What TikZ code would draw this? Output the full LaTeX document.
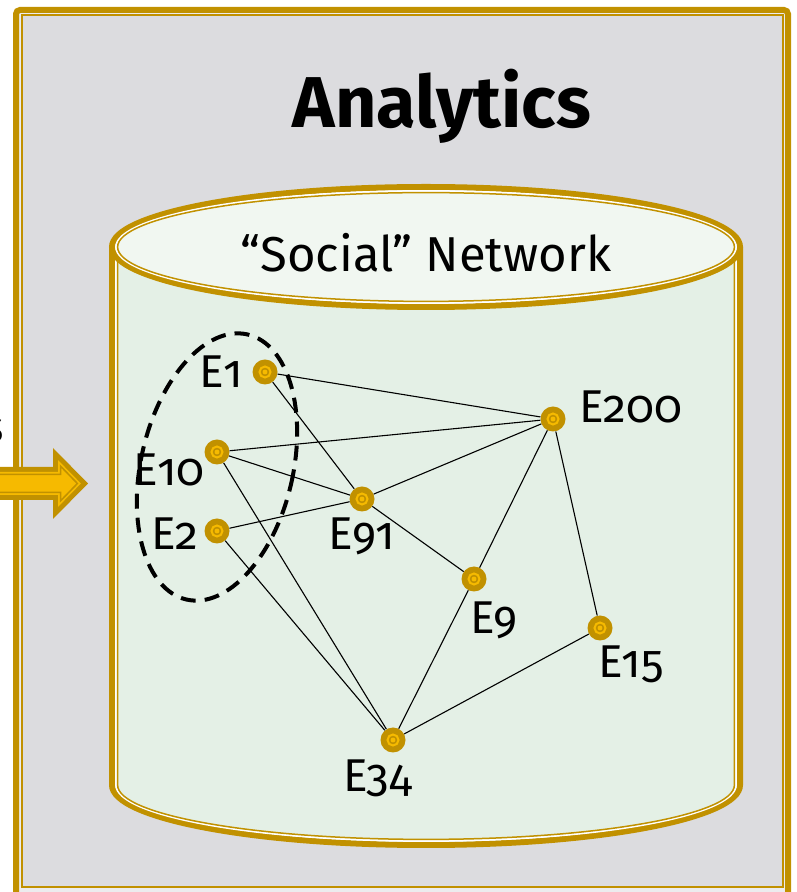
\documentclass[tikz,border=0pt]{standalone}
\usepackage{fontspec}
\setmainfont{Fira Sans}[Numbers=OldStyle]
\usetikzlibrary{calc}
\definecolor{gold}{RGB}{193,145,0}
\definecolor{amber}{RGB}{246,186,0}
\definecolor{panelgray}{RGB}{220,220,223}
\definecolor{panelrim}{RGB}{236,236,238}
\definecolor{cylbody}{RGB}{228,240,230}
\definecolor{cyltop}{RGB}{241,247,241}
% side and bottom of the store, drawn #1 inside the outer line
\newcommand\cylside[1]{(112+#1,645) -- (112+#1,107) arc[start angle=180, end angle=360, x radius=314-#1, y radius=60-#1] -- (740-#1,645)}

\tikzset{
  ev/.style={circle, fill=gold, minimum size=25pt, inner sep=0pt,
    path picture={\draw[amber, line width=2pt] (path picture bounding box.center) circle (5.5pt);
      \fill[amber] (path picture bounding box.center) circle (2.4pt);}},
  evlabel/.style={anchor=base, inner sep=0pt, font=\fontsize{46}{50}\selectfont},
  link/.style={black, line width=1.1pt},
  cluster/.style={black, line width=4pt, dash pattern=on 15pt off 9pt},
}

\begin{document}
\begin{tikzpicture}[x=1pt,y=1pt]
\useasboundingbox (0,0) rectangle (797,892);
\clip (0,0) rectangle (797,892);
% panel
\fill[panelrim, rounded corners=4pt] (16,-5) rectangle (788,882);
\draw[gold, line width=6pt, rounded corners=4pt] (16,-5) rectangle (788,882);
\filldraw[fill=panelgray, draw=gold, line width=2pt] (22,4.5) rectangle (783,876.5);

% incoming arrow
\fill[gold] (-10,425) -- (53,425) -- (53,444) -- (88,408.5) -- (53,373) -- (53,392) -- (-10,392) -- cycle;
\fill[amber] (-10,420) -- (58,420) -- (58,431.9) -- (80.9,408.5) -- (58,385.1) -- (58,397) -- (-10,397) -- cycle;
\draw[gold, line width=1.5pt] (-10,417.5) -- (60.5,417.5) -- (60.5,425.9) -- (77.4,408.5) -- (60.5,391.1) -- (60.5,399.5) -- (-10,399.5) -- cycle;
\node[evlabel, anchor=base east] (cut) at (4.5,449) {s};

% store
\fill[cylbody] \cylside{0} -- cycle;
\draw[gold, line width=6pt] \cylside{0};
\draw[white, line width=1.8pt] \cylside{4};
\draw[gold, line width=1.5pt] \cylside{5.6};
\filldraw[fill=cyltop, draw=gold, line width=6pt] (426,645) ellipse [x radius=314, y radius=60];
\draw[white, line width=1.8pt] (426,645) ellipse [x radius=310, y radius=56];
\draw[gold, line width=1.5pt] (426,645) ellipse [x radius=308.4, y radius=54.4];

\node[font=\fontsize{72}{80}\selectfont\bfseries, anchor=base] (title) at (442,764) {Analytics};
\node[font=\fontsize{49}{55}\selectfont, anchor=base] (store) at (426,620) {“Social” Network};

% events
\node[ev] (e1) at (265,520) {};
\node[ev] (e200) at (553,473) {};
\node[ev] (e10) at (217,440) {};
\node[ev] (e91) at (362,393) {};
\node[ev] (e2) at (217,361) {};
\node[ev] (e9) at (474,313) {};
\node[ev] (e15) at (600,264) {};
\node[ev] (e34) at (393,152) {};

\draw[link] (e1) -- (e200) (e1) -- (e91) (e10) -- (e200) (e10) -- (e91)
  (e10) -- (e34) (e2) -- (e91) (e2) -- (e34) (e91) -- (e200) (e91) -- (e9)
  (e200) -- (e9) (e200) -- (e15) (e9) -- (e34) (e15) -- (e34);

\draw[cluster, rotate around={-13:(217,425)}] (217,425) ellipse [x radius=76, y radius=136];

\node[evlabel] (t1) at (221,504) {E1};
\node[evlabel] (t200) at (631,469) {E200};
\node[evlabel] (t10) at (169,406) {E10};
\node[evlabel] (t91) at (362,342) {E91};
\node[evlabel] (t2) at (174.5,342) {E2};
\node[evlabel] (t9) at (494,258) {E9};
\node[evlabel] (t15) at (631,214) {E15};
\node[evlabel] (t34) at (377.5,100) {E34};
\end{tikzpicture}
\end{document}
